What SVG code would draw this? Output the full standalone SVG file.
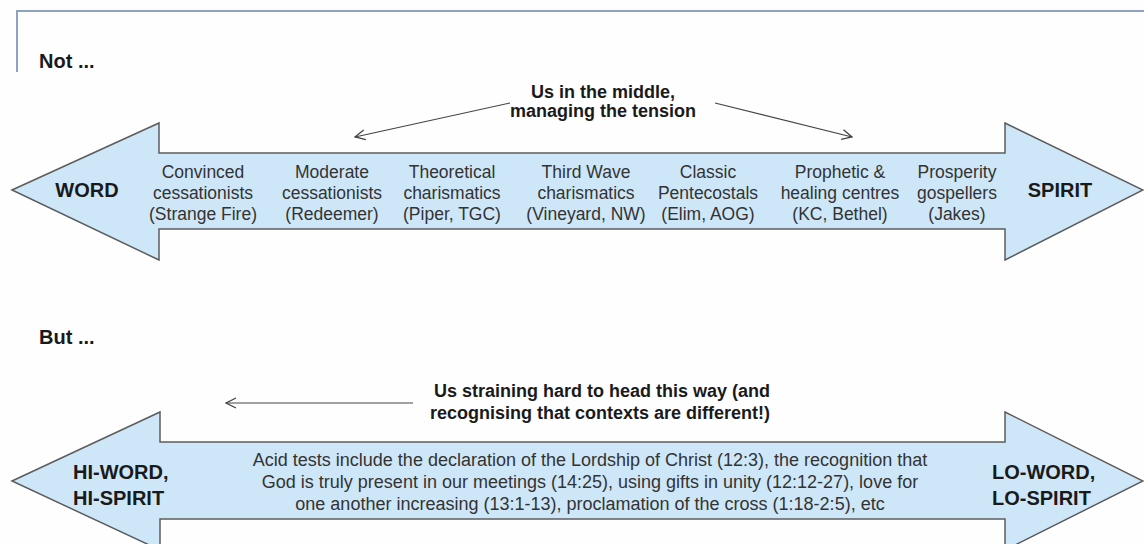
<svg xmlns="http://www.w3.org/2000/svg" width="1144" height="544" viewBox="0 0 1144 544">
<defs>
<marker id="open" viewBox="0 0 12 12" refX="11" refY="6" markerWidth="12" markerHeight="12" markerUnits="userSpaceOnUse" orient="auto">
<path d="M1,1 L11,6 L1,11" fill="none" stroke="#444" stroke-width="1.3"/>
</marker>
<style>
.arrow{fill:#cee7f8;stroke:#5c5c5c;stroke-width:1.5}
.col{font-family:"Liberation Sans",Arial,sans-serif;font-size:17.5px;fill:#333;text-anchor:middle}
.big{font-family:"Liberation Sans",Arial,sans-serif;font-size:20px;font-weight:bold;fill:#1a1a1a}
.lbl{font-family:"Liberation Sans",Arial,sans-serif;font-size:18px;font-weight:bold;fill:#1a1a1a}
.acid{font-family:"Liberation Sans",Arial,sans-serif;font-size:18px;fill:#333;text-anchor:middle}
.conn{fill:none;stroke:#444;stroke-width:1.2}
</style>
</defs>
<rect width="1144" height="544" fill="#fefefe"/>
<path d="M17,72 L17,11 L1144,11" fill="none" stroke="#8fa2bf" stroke-width="2"/>
<text class="big" x="39" y="68">Not ...</text>
<text class="big" x="39" y="344">But ...</text>

<g id="top-arrow">
<polygon class="arrow" points="12,190 159,123 159,153 1005,153 1005,123 1143,190 1005,260 1005,229 159,229 159,260"/>
<text class="big" x="87" y="197" text-anchor="middle">WORD</text>
<text class="big" x="1060" y="197" text-anchor="middle">SPIRIT</text>
</g>
<g id="col-convinced"><text class="col" x="203" y="178">Convinced</text><text class="col" x="203" y="199">cessationists</text><text class="col" x="203" y="220">(Strange Fire)</text></g>
<g id="col-moderate"><text class="col" x="332" y="178">Moderate</text><text class="col" x="332" y="199">cessationists</text><text class="col" x="332" y="220">(Redeemer)</text></g>
<g id="col-theoretical"><text class="col" x="452" y="178">Theoretical</text><text class="col" x="452" y="199">charismatics</text><text class="col" x="452" y="220">(Piper, TGC)</text></g>
<g id="col-thirdwave"><text class="col" x="586" y="178">Third Wave</text><text class="col" x="586" y="199">charismatics</text><text class="col" x="586" y="220">(Vineyard, NW)</text></g>
<g id="col-classic"><text class="col" x="708" y="178">Classic</text><text class="col" x="708" y="199">Pentecostals</text><text class="col" x="708" y="220">(Elim, AOG)</text></g>
<g id="col-prophetic"><text class="col" x="840" y="178">Prophetic &amp;</text><text class="col" x="840" y="199">healing centres</text><text class="col" x="840" y="220">(KC, Bethel)</text></g>
<g id="col-prosperity"><text class="col" x="957" y="178">Prosperity</text><text class="col" x="957" y="199">gospellers</text><text class="col" x="957" y="220">(Jakes)</text></g>

<g id="middle-label">
<text class="lbl" x="603" y="98" text-anchor="middle">Us in the middle,</text>
<text class="lbl" x="603" y="117" text-anchor="middle">managing the tension</text>
</g>

<g id="bottom-arrow">
<polygon class="arrow" points="12,481 160,412 160,442 1005,442 1005,412 1143,481 1005,550 1005,519 160,519 160,550"/>
<text class="big" x="73" y="479">HI-WORD,</text>
<text class="big" x="73" y="505">HI-SPIRIT</text>
<text class="big" x="992" y="479">LO-WORD,</text>
<text class="big" x="992" y="505">LO-SPIRIT</text>
<text class="acid" x="590" y="466">Acid tests include the declaration of the Lordship of Christ (12:3), the recognition that</text>
<text class="acid" x="590" y="488">God is truly present in our meetings (14:25), using gifts in unity (12:12-27), love for</text>
<text class="acid" x="590" y="510">one another increasing (13:1-13), proclamation of the cross (1:18-2:5), etc</text>
</g>

<g id="straining-label">
<text class="lbl" x="602" y="397" text-anchor="middle">Us straining hard to head this way (and</text>
<text class="lbl" x="600" y="419" text-anchor="middle">recognising that contexts are different!)</text>
</g>

<g id="connectors">
<line class="conn" x1="510" y1="103" x2="355" y2="137" marker-end="url(#open)"/>
<line class="conn" x1="715" y1="103" x2="852" y2="137" marker-end="url(#open)"/>
<line class="conn" x1="413" y1="403" x2="226" y2="403" marker-end="url(#open)"/>
</g>
</svg>
